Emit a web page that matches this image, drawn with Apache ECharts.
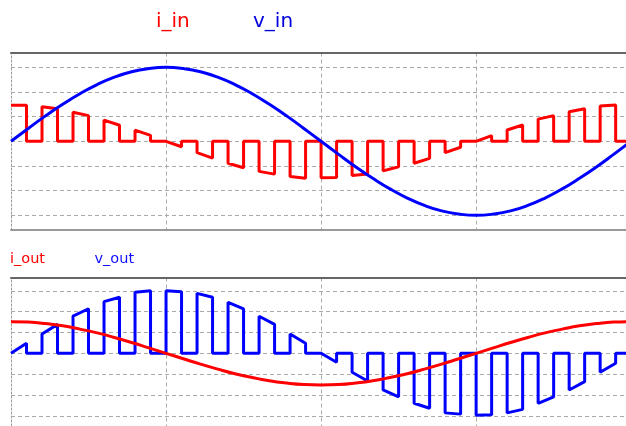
<!DOCTYPE html>
<html><head><meta charset="utf-8">
<script src="https://cdn.jsdelivr.net/npm/echarts@6/dist/echarts.min.js"></script>
<style>html,body{margin:0;padding:0;background:#fff}#c{width:626px;height:426px}</style>
</head><body><div id="c"></div>
<script>
// ---- data (angle in degrees of the fundamental; values in grid divisions) ----
const pulseStart = [0,18,36,54,72,90,108,126,144,162,180,198,216,234,252,270,288,306,324,342];
const pulseWidth = 9;
const iInStart = [1.46,1.40,1.18,0.86,0.45,0,-0.46,-0.89,-1.22,-1.43,-1.48,-1.39,-1.20,-0.89,-0.46,0,0.46,0.90,1.20,1.43];
const iInEnd   = [1.46,1.32,1.04,0.65,0.24,-0.22,-0.68,-1.07,-1.33,-1.50,-1.47,-1.33,-1.03,-0.69,-0.24,0.23,0.66,1.04,1.32,1.47];
const vOutStart = [0,0.93,1.79,2.48,2.93,3.00,2.88,2.45,1.78,0.93,0,-0.91,-1.76,-2.40,-2.86,-2.97,-2.86,-2.40,-1.76,-0.91];
const vOutEnd   = [0.48,1.39,2.14,2.69,3.00,2.96,2.69,2.13,1.39,0.48,-0.43,-1.33,-2.09,-2.64,-2.92,-2.95,-2.69,-2.09,-1.36,-0.48];
const sineAngles = [0,10,20,30,40,50,60,70,80,90,100,110,120,130,140,150,160,170,180,190,200,210,220,230,240,250,260,270,280,290,300,310,320,330,340,350,360];
const vIn  = [0,0.52,1.03,1.50,1.93,2.30,2.60,2.82,2.95,3.00,2.95,2.82,2.60,2.30,1.93,1.50,1.03,0.52,0,-0.52,-1.03,-1.50,-1.93,-2.30,-2.60,-2.82,-2.95,-3.00,-2.95,-2.82,-2.60,-2.30,-1.93,-1.50,-1.03,-0.52,0];
const iOut = [1.52,1.50,1.43,1.32,1.16,0.98,0.76,0.52,0.26,0,-0.26,-0.52,-0.76,-0.98,-1.16,-1.32,-1.43,-1.50,-1.52,-1.50,-1.43,-1.32,-1.16,-0.98,-0.76,-0.52,-0.26,0,0.26,0.52,0.76,0.98,1.16,1.32,1.43,1.50,1.52];
const gridLevels = [-3,-2,-1,0,1,2,3];
const topLabels = ['i_in','v_in'];
const bottomLabels = ['i_out','v_out'];

function steps(start, end) {
  const pts = [];
  pulseStart.forEach((t, k) => {
    if (!(k === 0 && start[k] !== 0)) pts.push([t, 0]);
    pts.push([t, start[k]]);
    pts.push([t + pulseWidth, end[k]]);
    pts.push([t + pulseWidth, 0]);
  });
  pts.push([360, 0]);
  return pts;
}
const sine = arr => sineAngles.map((a, i) => [a, arr[i]]);

const RED = '#ff0000', BLUE = '#0000ff';
const dash = [4, 3];
const X_MAX = 357;
function xAxes(gi, showBottom) {
  return [
    { type:'value', gridIndex:gi, min:0, max:X_MAX, interval:90, position:'bottom',
      axisLine:{show:showBottom, onZero:false, lineStyle:{color:'#999', width:2}},
      axisTick:{show:false}, axisLabel:{show:false},
      splitLine:{show:true, showMinLine:false, showMaxLine:false, lineStyle:{color:'#aaa', type:dash, width:1}} },
    { type:'value', gridIndex:gi, min:0, max:X_MAX, position:'top',
      axisLine:{show:true, onZero:false, lineStyle:{color:'#666', width:2}},
      axisTick:{show:false}, axisLabel:{show:false}, splitLine:{show:false} }
  ];
}
function yAxis(gi, lo, hi) {
  return { type:'value', gridIndex:gi, min:lo, max:hi,
    axisLine:{show:true, onZero:false, lineStyle:{color:'#999', width:1, type:[2,2]}},
    axisTick:{show:false}, axisLabel:{show:false}, splitLine:{show:false} };
}
function gridSeries(xi, yi) {
  return { type:'line', xAxisIndex:xi, yAxisIndex:yi, data:[[0,0]], showSymbol:false,
    lineStyle:{opacity:0}, silent:true, z:1,
    markLine:{ silent:true, z:1, symbol:'none', label:{show:false}, animation:false,
      lineStyle:{color:'#aaa', type:dash, width:1},
      emphasis:{disabled:true},
      data: gridLevels.map(v => ({yAxis:v})) } };
}
function line(xi, yi, data, color, smooth) {
  return { type:'line', xAxisIndex:xi, yAxisIndex:yi, data, smooth:!!smooth, showSymbol:false,
    lineStyle:{color, width:3}, itemStyle:{color}, z:3, silent:true };
}

const chart = echarts.init(document.getElementById('c'), null, {renderer:'canvas'});
chart.setOption({
  animation:false,
  backgroundColor:'#fff',
  grid:[
    {left:11, right:0, top:52.5, height:177.6},
    {left:11, right:0, top:277.5, height:148.5}
  ],
  xAxis:[...xAxes(0, true), ...xAxes(1, false)],
  yAxis:[yAxis(0, -3.6, 3.6), yAxis(1, -3.49, 3.64)],
  series:[
    gridSeries(0, 0),
    gridSeries(2, 1),
    line(0, 0, steps(iInStart, iInEnd), RED),
    line(0, 0, sine(vIn), BLUE, true),
    line(2, 1, steps(vOutStart, vOutEnd), BLUE),
    line(2, 1, sine(iOut), RED, true)
  ],
  graphic:[
    {type:'text', left:156, top:12, style:{text:topLabels[0], fill:'#ff0000', font:'20px "DejaVu Sans"'}},
    {type:'text', left:253, top:12, style:{text:topLabels[1], fill:'#0000dd', font:'20px "DejaVu Sans"'}},
    {type:'text', left:10, top:252, style:{text:bottomLabels[0], fill:'#ff0000', font:'14.5px "DejaVu Sans"'}},
    {type:'text', left:94.5, top:252, style:{text:bottomLabels[1], fill:'#1010ff', font:'14.5px "DejaVu Sans"'}}
  ]
});
</script></body></html>
